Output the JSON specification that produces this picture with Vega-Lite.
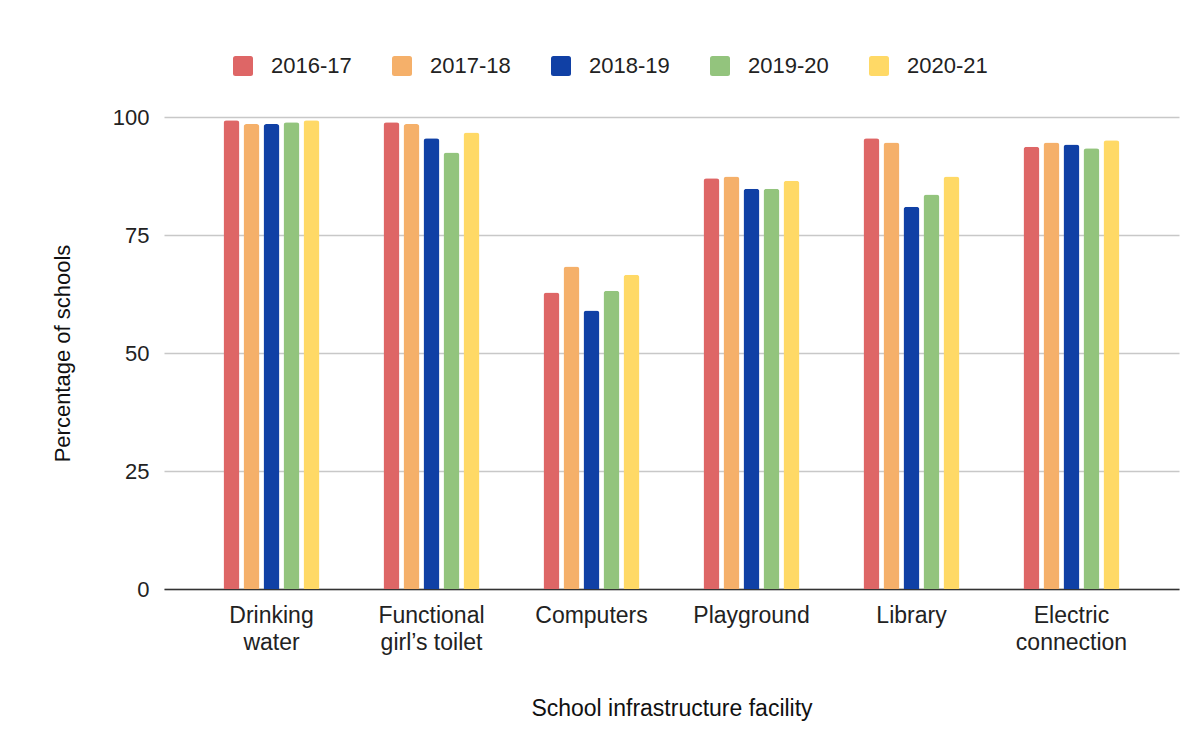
{
  "$schema": "https://vega.github.io/schema/vega-lite/v6.json",
  "autosize": {"type": "none"},
  "width": 1015,
  "height": 472,
  "padding": {"left": 164, "top": 117, "right": 23, "bottom": 162},
  "background": "white",
  "data": {
    "values": [
      {"facility": "Drinking water", "year": "2016-17", "pct": 99.3},
      {"facility": "Drinking water", "year": "2017-18", "pct": 98.5},
      {"facility": "Drinking water", "year": "2018-19", "pct": 98.5},
      {"facility": "Drinking water", "year": "2019-20", "pct": 98.9},
      {"facility": "Drinking water", "year": "2020-21", "pct": 99.3},
      {"facility": "Functional girl’s toilet", "year": "2016-17", "pct": 98.9},
      {"facility": "Functional girl’s toilet", "year": "2017-18", "pct": 98.5},
      {"facility": "Functional girl’s toilet", "year": "2018-19", "pct": 95.5},
      {"facility": "Functional girl’s toilet", "year": "2019-20", "pct": 92.5},
      {"facility": "Functional girl’s toilet", "year": "2020-21", "pct": 96.7},
      {"facility": "Computers", "year": "2016-17", "pct": 62.8},
      {"facility": "Computers", "year": "2017-18", "pct": 68.3},
      {"facility": "Computers", "year": "2018-19", "pct": 59.0},
      {"facility": "Computers", "year": "2019-20", "pct": 63.2},
      {"facility": "Computers", "year": "2020-21", "pct": 66.6},
      {"facility": "Playground", "year": "2016-17", "pct": 87.0},
      {"facility": "Playground", "year": "2017-18", "pct": 87.4},
      {"facility": "Playground", "year": "2018-19", "pct": 84.8},
      {"facility": "Playground", "year": "2019-20", "pct": 84.8},
      {"facility": "Playground", "year": "2020-21", "pct": 86.5},
      {"facility": "Library", "year": "2016-17", "pct": 95.5},
      {"facility": "Library", "year": "2017-18", "pct": 94.6},
      {"facility": "Library", "year": "2018-19", "pct": 81.0},
      {"facility": "Library", "year": "2019-20", "pct": 83.6},
      {"facility": "Library", "year": "2020-21", "pct": 87.4},
      {"facility": "Electric connection", "year": "2016-17", "pct": 93.7},
      {"facility": "Electric connection", "year": "2017-18", "pct": 94.6},
      {"facility": "Electric connection", "year": "2018-19", "pct": 94.2},
      {"facility": "Electric connection", "year": "2019-20", "pct": 93.4},
      {"facility": "Electric connection", "year": "2020-21", "pct": 95.1}
    ]
  },
  "mark": {"type": "bar", "cornerRadiusEnd": 3},
  "encoding": {
    "x": {
      "field": "facility",
      "type": "nominal",
      "sort": ["Drinking water", "Functional girl’s toilet", "Computers", "Playground", "Library", "Electric connection"],
      "scale": {"paddingInner": 0.4, "paddingOuter": 0.372, "align": 0.5},
      "axis": {
        "title": "School infrastructure facility",
        "labelAngle": 0,
        "labelExpr": "indexof(datum.label, ' ') > 0 ? [slice(datum.label, 0, indexof(datum.label, ' ')), slice(datum.label, indexof(datum.label, ' ') + 1)] : datum.label",
        "labelFontSize": 23,
        "labelLineHeight": 27,
        "labelPadding": 15,
        "labelBaseline": "top",
        "ticks": false,
        "domainColor": "#333333",
        "domainWidth": 1.5,
        "titleFontSize": 23,
        "titleFontWeight": "normal",
        "titlePadding": 43
      }
    },
    "xOffset": {
      "field": "year",
      "type": "nominal",
      "scale": {"paddingInner": 0.2, "paddingOuter": 0}
    },
    "y": {
      "field": "pct",
      "type": "quantitative",
      "scale": {"domain": [0, 100], "nice": false},
      "axis": {
        "title": "Percentage of schools",
        "values": [0, 25, 50, 75, 100],
        "domain": false,
        "ticks": false,
        "labelPadding": 15,
        "labelFontSize": 22,
        "gridColor": "#c8c8c8",
        "gridWidth": 1.5,
        "titleFontSize": 22,
        "titleFontWeight": "normal",
        "titlePadding": 38
      }
    },
    "color": {
      "field": "year",
      "type": "nominal",
      "scale": {
        "domain": ["2016-17", "2017-18", "2018-19", "2019-20", "2020-21"],
        "range": ["#de6666", "#f5b06a", "#1040a5", "#93c47d", "#ffd966"]
      },
      "legend": {
        "title": null,
        "orient": "none",
        "direction": "horizontal",
        "legendX": 68,
        "legendY": -62,
        "symbolType": "M -1 -0.75 Q -1 -1 -0.75 -1 L 0.75 -1 Q 1 -1 1 -0.75 L 1 0.75 Q 1 1 0.75 1 L -0.75 1 Q -1 1 -1 0.75 Z",
        "symbolSize": 400,
        "symbolStrokeWidth": 0,
        "labelFontSize": 22,
        "labelOffset": 17,
        "columnPadding": 39,
        "labelColor": "#222222"
      }
    }
  },
  "config": {
    "font": "Liberation Sans",
    "view": {"stroke": null},
    "axis": {"labelColor": "#222222", "titleColor": "#111111", "labelFont": "Liberation Sans", "titleFont": "Liberation Sans"},
    "legend": {"labelFont": "Liberation Sans"}
  }
}
